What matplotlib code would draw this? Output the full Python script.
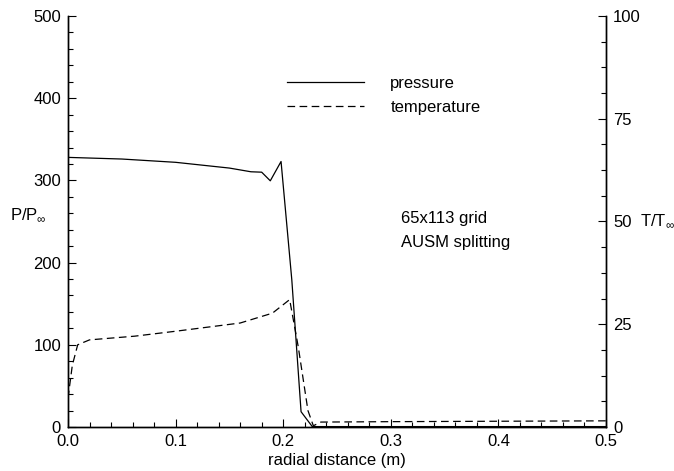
import numpy as np
import matplotlib
matplotlib.use("Agg")
import matplotlib.pyplot as plt
from matplotlib.ticker import MultipleLocator

plt.rcParams['font.family'] = ['Liberation Sans', 'DejaVu Sans']
plt.rcParams['mathtext.fontset'] = 'custom'
plt.rcParams['mathtext.rm'] = 'Liberation Sans'
plt.rcParams['lines.scale_dashes'] = False

# радиальное распределение давления (P/P_inf)
r_p = [0.0, 0.05, 0.10, 0.15, 0.170, 0.180, 0.188, 0.198, 0.208, 0.2166, 0.227, 0.30, 0.40, 0.50]
p = [328, 326, 322, 315, 310.5, 310, 299.5, 323, 179, 18.6, 0.5, 0.5, 0.5, 0.5]

# радиальное распределение температуры (T/T_inf)
r_t = [0.0, 0.004, 0.009, 0.02, 0.062, 0.10, 0.16, 0.19, 0.206, 0.214, 0.223, 0.228, 0.235, 0.30, 0.40, 0.50]
t = [7.0, 15.0, 20.0, 21.2, 22.1, 23.3, 25.3, 27.7, 31.0, 19.5, 4.0, 0.3, 1.2, 1.3, 1.4, 1.5]

fig = plt.figure(figsize=(6.74, 4.71), dpi=100)
ax = fig.add_axes([68 / 674, 44 / 471, 538 / 674, 411 / 471])
ax2 = ax.twinx()

lw = 0.9
l1, = ax.plot(r_p, p, color='black', lw=lw, label='pressure')
l2, = ax2.plot(r_t, t, color='black', lw=lw, linestyle=(0, (5.5, 3.2)), label='temperature')

ax.set_xlim(0, 0.5)
ax.set_ylim(0, 500)
ax2.set_ylim(0, 100)

ax.xaxis.set_major_locator(MultipleLocator(0.1))
ax.xaxis.set_minor_locator(MultipleLocator(0.02))
ax.yaxis.set_major_locator(MultipleLocator(100))
ax.yaxis.set_minor_locator(MultipleLocator(20))
ax2.yaxis.set_major_locator(MultipleLocator(25))
ax2.yaxis.set_minor_locator(MultipleLocator(6.25))
ax.xaxis.set_major_formatter(plt.FuncFormatter(lambda v, _: f"{v:.1f}"))

fs = 12
for a in (ax, ax2):
    a.spines['top'].set_visible(False)
    for s in a.spines.values():
        s.set_linewidth(1.0)
    a.tick_params(which='both', direction='in', labelsize=fs, width=0.8, pad=5)
    a.tick_params(which='major', length=6)
    a.tick_params(which='minor', length=3.5)
ax.tick_params(axis='x', pad=5)

ax.set_xlabel('radial distance (m)', fontsize=fs, labelpad=3)
fig.text(10 / 674, 1 - 215 / 471, r'P/P$_\infty$', fontsize=fs, va='center', ha='left')
fig.text(640 / 674, 1 - 221 / 471, r'T/T$_\infty$', fontsize=fs, va='center', ha='left')

fig.legend(handles=[l1, l2], loc='upper left', bbox_to_anchor=(287 / 674, 1 - 76 / 471),
           frameon=False, fontsize=fs, handlelength=4.6, handletextpad=1.6,
           labelspacing=0.55, borderpad=0, borderaxespad=0)

fig.text(401 / 674, 1 - 218 / 471, '65x113 grid', fontsize=fs, va='center', ha='left')
fig.text(401 / 674, 1 - 242 / 471, 'AUSM splitting', fontsize=fs, va='center', ha='left')

fig.savefig('out.png', dpi=100)
